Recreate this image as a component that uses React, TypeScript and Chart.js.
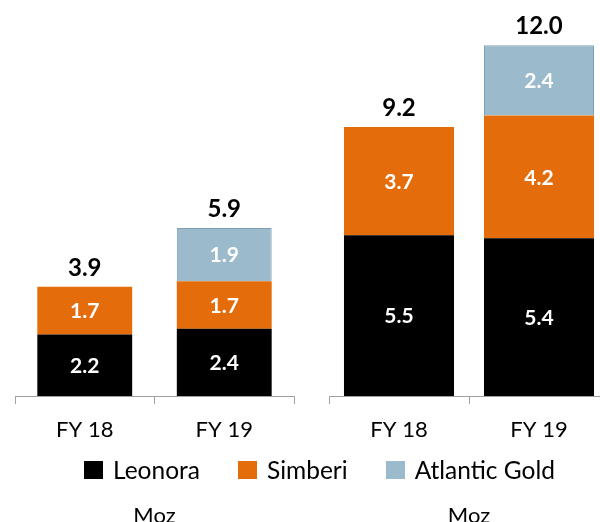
import React, { useEffect, useRef } from "react";
import { Chart, registerables } from "chart.js";

Chart.register(...registerables);

const categories = ["FY 18", "FY 19"];
const seriesNames = ["Leonora", "Simberi", "Atlantic Gold"];
const seriesColors = ["#000000", "#E46C0A", "#9BBBCC"];

const leftLeonora = [2.2, 2.4];
const leftSimberi = [1.7, 1.7];
const leftAtlantic = [null, 1.9];
const leftTotals = [3.9, 5.9];

const rightLeonora = [5.5, 5.4];
const rightSimberi = [3.7, 4.2];
const rightAtlantic = [null, 2.4];
const rightTotals = [9.2, 12.0];

const unitLabel = "Moz";
const FONT = "Lato, 'Open Sans', sans-serif";

function makeLabelPlugin(totals: number[]) {
  return {
    id: "stackLabels",
    afterDatasetsDraw(chart: any) {
      const ctx = chart.ctx;
      ctx.save();
      ctx.textAlign = "center";
      chart.data.datasets.forEach((ds: any, di: number) => {
        const meta = chart.getDatasetMeta(di);
        meta.data.forEach((el: any, i: number) => {
          const v = ds.data[i];
          if (v == null) return;
          const { x, y, base } = el.getProps(["x", "y", "base"], true);
          ctx.font = `bold 21px ${FONT}`;
          ctx.fillStyle = "#ffffff";
          ctx.textBaseline = "middle";
          ctx.fillText(Number(v).toFixed(1), x, (y + base) / 2 + 1);
        });
      });
      totals.forEach((t, i) => {
        let top = Infinity;
        let x = 0;
        chart.data.datasets.forEach((ds: any, di: number) => {
          if (ds.data[i] == null) return;
          const el = chart.getDatasetMeta(di).data[i];
          top = Math.min(top, el.y);
          x = el.x;
        });
        ctx.font = `bold 24px ${FONT}`;
        ctx.fillStyle = "#000000";
        ctx.textBaseline = "alphabetic";
        ctx.fillText(t.toFixed(1), x, top - 11);
      });
      ctx.restore();
    },
  };
}

function StackChart(props: {
  leonora: (number | null)[];
  simberi: (number | null)[];
  atlantic: (number | null)[];
  totals: number[];
  barPct: number;
  padTop: number;
  padLeft: number;
  padRight: number;
  width: number;
  left: number;
}) {
  const ref = useRef<HTMLCanvasElement | null>(null);
  useEffect(() => {
    if (!ref.current) return;
    const series = [props.leonora, props.simberi, props.atlantic];
    const chart = new Chart(ref.current, {
      type: "bar",
      data: {
        labels: categories,
        datasets: series.map((d, k) => ({
          label: seriesNames[k],
          data: d as any,
          backgroundColor: seriesColors[k],
          borderColor: k === 2 ? "#7f9fb2" : seriesColors[k],
          borderWidth: k === 2 ? 1 : 0,
          categoryPercentage: 1,
          barPercentage: props.barPct,
        })),
      },
      options: {
        animation: false,
        responsive: false,
        layout: {
          padding: { top: props.padTop, left: props.padLeft, right: props.padRight, bottom: 0 },
        },
        plugins: {
          legend: { display: false },
          tooltip: { enabled: false },
        },
        scales: {
          x: {
            stacked: true,
            offset: true,
            grid: {
              display: true,
              drawOnChartArea: false,
              drawTicks: true,
              tickLength: 8,
              color: "#a0a0a0",
              offset: true,
            },
            border: { display: true, color: "#a0a0a0", width: 1 },
            ticks: {
              color: "#000000",
              padding: 13,
              font: { family: FONT, size: 22 },
            },
            title: {
              display: true,
              text: unitLabel,
              color: "#000000",
              font: { family: FONT, size: 22 },
              padding: { top: 0, bottom: 11 },
            },
            afterFit: (scale: any) => {
              scale.height = 144;
            },
          },
          y: {
            stacked: true,
            display: false,
            min: 0,
            max: 13,
          },
        },
      },
      plugins: [makeLabelPlugin(props.totals)],
    });
    return () => chart.destroy();
  }, []);
  return (
    <canvas
      ref={ref}
      width={props.width}
      height={540}
      style={{ position: "absolute", left: props.left, top: 0, width: props.width, height: 540 }}
    />
  );
}

export default function App() {
  return (
    <div
      style={{
        position: "fixed",
        left: 0,
        top: 0,
        width: 600,
        height: 522,
        overflow: "hidden",
        background: "#ffffff",
      }}
    >
      <StackChart
        leonora={leftLeonora}
        simberi={leftSimberi}
        atlantic={leftAtlantic}
        totals={leftTotals}
        barPct={0.68}
        padTop={32}
        padLeft={15}
        padRight={6}
        width={300}
        left={0}
      />
      <StackChart
        leonora={rightLeonora}
        simberi={rightSimberi}
        atlantic={rightAtlantic}
        totals={rightTotals}
        barPct={0.786}
        padTop={16}
        padLeft={29}
        padRight={11}
        width={320}
        left={300}
      />
      <div
        style={{
          position: "absolute",
          left: 84,
          top: 455,
          display: "flex",
          alignItems: "center",
          fontFamily: FONT,
          fontSize: 24.5,
          color: "#000",
          lineHeight: "30px",
          whiteSpace: "nowrap",
        }}
      >
        {seriesNames.map((n, k) => (
          <div key={n} style={{ display: "flex", alignItems: "center", marginRight: 38 }}>
            <span
              style={{
                display: "inline-block",
                width: 19,
                height: 18,
                background: seriesColors[k],
                marginRight: 10,
              }}
            />
            <span>{n}</span>
          </div>
        ))}
      </div>
    </div>
  );
}
